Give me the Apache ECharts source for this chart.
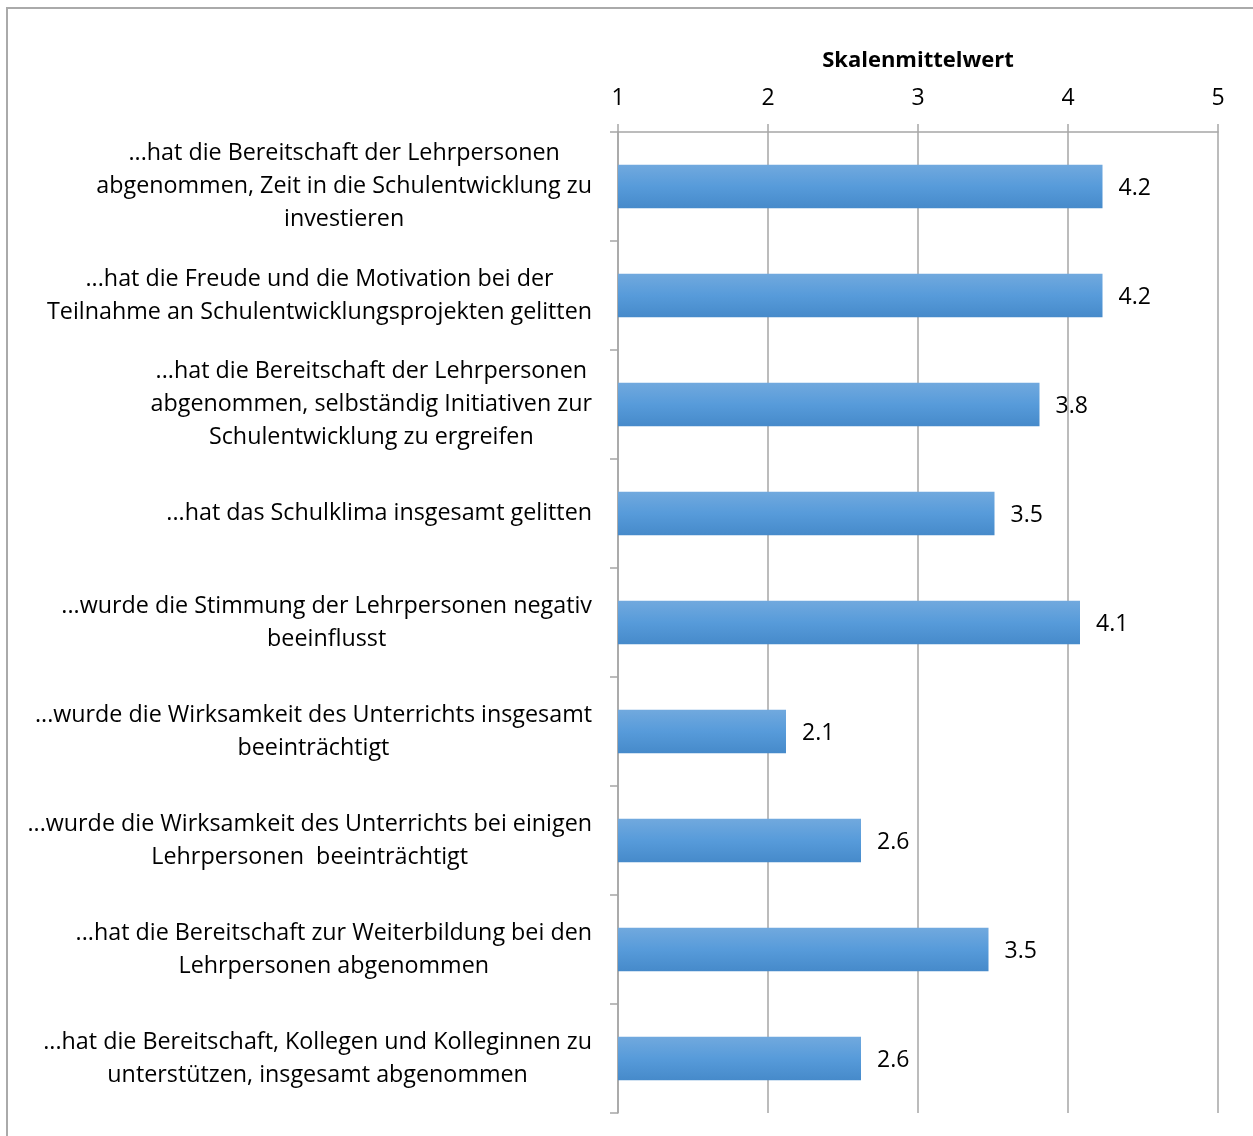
<!DOCTYPE html>
<html>
<head>
<meta charset="utf-8">
<script src="https://cdn.jsdelivr.net/npm/echarts@6/dist/echarts.min.js"></script>
<style>
  html, body { margin: 0; padding: 0; background: #fff; }
  #main { width: 1253px; height: 1136px; }
</style>
</head>
<body>
<div id="main"></div>
<script>
var categories = [
    '...hat die Bereitschaft der Lehrpersonen\nabgenommen, Zeit in die Schulentwicklung zu\ninvestieren',
    '...hat die Freude und die Motivation bei der\nTeilnahme an Schulentwicklungsprojekten gelitten',
    '...hat die Bereitschaft der Lehrpersonen\nabgenommen, selbständig Initiativen zur\nSchulentwicklung zu ergreifen',
    '...hat das Schulklima insgesamt gelitten',
    '...wurde die Stimmung der Lehrpersonen negativ\nbeeinflusst',
    '...wurde die Wirksamkeit des Unterrichts insgesamt\nbeeinträchtigt',
    '...wurde die Wirksamkeit des Unterrichts bei einigen\nLehrpersonen  beeinträchtigt',
    '...hat die Bereitschaft zur Weiterbildung bei den\nLehrpersonen abgenommen',
    '...hat die Bereitschaft, Kollegen und Kolleginnen zu\nunterstützen, insgesamt abgenommen'
];
var mittelwerte = [4.23, 4.23, 3.81, 3.51, 4.08, 2.12, 2.62, 3.47, 2.62];
var skala = { min: 1, max: 5, step: 1 };
var achsenTitel = 'Skalenmittelwert';

var font = '"Open Sans", sans-serif';
var grau = '#a6a6a6';

var chart = echarts.init(document.getElementById('main'));

var option = {
    backgroundColor: '#fff',
    animation: false,
    graphic: [{
        type: 'rect',
        shape: { x: 7, y: 8, width: 1270, height: 1160 },
        style: { fill: 'none', stroke: '#aaaaaa', lineWidth: 2 },
        silent: true
    }],
    grid: { left: 618, right: 35, top: 132, bottom: 23 },
    xAxis: {
        type: 'value',
        position: 'top',
        min: skala.min,
        max: skala.max,
        interval: skala.step,
        name: achsenTitel,
        nameLocation: 'middle',
        nameGap: 60,
        nameTextStyle: { fontFamily: font, fontSize: 22, fontWeight: 'bold', color: '#000' },
        axisLine: { show: true, lineStyle: { color: grau, width: 1.5 } },
        axisTick: { show: true, length: 8, lineStyle: { color: grau, width: 1.5 } },
        axisLabel: { margin: 22, fontFamily: font, fontSize: 23, color: '#000' },
        splitLine: { show: true, lineStyle: { color: grau, width: 1.5 } }
    },
    yAxis: {
        type: 'category',
        inverse: true,
        data: categories,
        axisLine: { show: true, lineStyle: { color: grau, width: 1.5 } },
        axisTick: { show: true, length: 8, lineStyle: { color: grau, width: 1.5 } },
        axisLabel: {
            margin: 26,
            align: 'right',
            formatter: function (v) {
                // jede Zeile als eigener rich-Token, damit die Zeilen zentriert stehen
                return v.split('\n').map(function (s) { return '{c|' + s + '}'; }).join('\n');
            },
            rich: {
                c: { align: 'center', fontFamily: font, fontSize: 23.3, lineHeight: 33, color: '#000' }
            }
        }
    },
    series: [{
        type: 'bar',
        data: mittelwerte,
        barWidth: '40%',
        itemStyle: {
            color: new echarts.graphic.LinearGradient(0, 0, 0, 1, [
                { offset: 0, color: '#71a9de' },
                { offset: 0.5, color: '#579bda' },
                { offset: 1, color: '#468aca' }
            ])
        },
        label: {
            show: true,
            position: 'right',
            distance: 16,
            offset: [0, 2],
            fontFamily: font,
            fontSize: 23,
            color: '#000',
            formatter: function (p) { return p.value.toFixed(1); }
        }
    }]
};

chart.setOption(option);
</script>
</body>
</html>
